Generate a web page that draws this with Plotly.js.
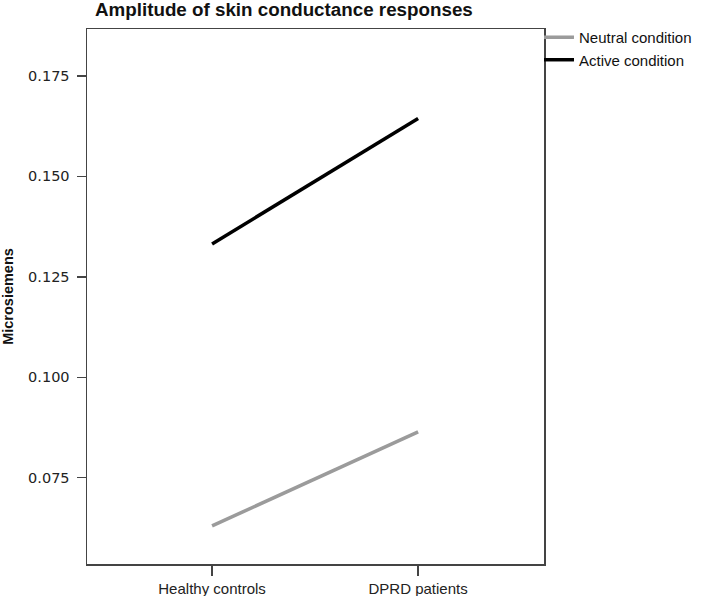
<!DOCTYPE html>
<html>
<head>
<meta charset="utf-8">
<script src="https://cdn.plot.ly/plotly-3.0.1.min.js"></script>
<style>
  html, body { margin: 0; padding: 0; background: #fff; }
  #chart { width: 709px; height: 596px; }
</style>
</head>
<body>
<div id="chart"></div>
<script>
var categories = ["Healthy controls", "DPRD patients"];
var neutralValues = [0.0630, 0.0864];
var activeValues = [0.1332, 0.1644];
var seriesNames = ["Neutral condition", "Active condition"];
var yTickValues = [0.075, 0.100, 0.125, 0.150, 0.175];
var yTickLabels = ["0.075", "0.100", "0.125", "0.150", "0.175"];

var traces = [
  {
    x: categories, y: neutralValues, name: seriesNames[0],
    type: "scatter", mode: "lines",
    line: { color: "#9b9b9b", width: 3.5 }
  },
  {
    x: categories, y: activeValues, name: seriesNames[1],
    type: "scatter", mode: "lines",
    line: { color: "#000000", width: 3.5 }
  }
];

var layout = {
  width: 709, height: 596,
  margin: { l: 87, r: 154, t: 29, b: 32, pad: 0 },
  paper_bgcolor: "#ffffff", plot_bgcolor: "#ffffff",
  font: { family: "Liberation Sans, Arial, sans-serif", color: "#222222" },
  title: {
    text: "<b>Amplitude of skin conductance responses</b>",
    font: { family: "Liberation Sans, Arial, sans-serif", size: 18.8, color: "#111111" },
    xref: "container", x: 95 / 709, xanchor: "left",
    yref: "container", y: 1 - 9 / 596, yanchor: "middle"
  },
  xaxis: {
    type: "category",
    range: [-0.607, 1.611],
    showgrid: false, zeroline: false,
    showline: true, mirror: true, linecolor: "#444444", linewidth: 1.5,
    ticks: "outside", ticklen: 10, tickwidth: 1.5, tickcolor: "#444444",
    tickfont: { family: "Liberation Sans, Arial, sans-serif", size: 15, color: "#222222" }
  },
  yaxis: {
    range: [0.05351, 0.1867],
    tickvals: yTickValues, ticktext: yTickLabels,
    showgrid: false, zeroline: false,
    showline: true, mirror: true, linecolor: "#444444", linewidth: 1.5,
    ticks: "outside", ticklen: 9, tickwidth: 1.5, tickcolor: "#444444",
    ticklabelstandoff: 4,
    tickfont: { family: "DejaVu Sans, sans-serif", size: 14.5, color: "#222222" },
    title: {
      text: "<b>Microsiemens</b>",
      font: { family: "Liberation Sans, Arial, sans-serif", size: 14.5, color: "#111111" },
      standoff: 14
    }
  },
  showlegend: true,
  legend: {
    x: 0.989, xanchor: "left",
    y: 1.015, yanchor: "top",
    bgcolor: "rgba(0,0,0,0)", borderwidth: 0,
    font: { family: "Liberation Sans, Arial, sans-serif", size: 15, color: "#111111" },
    tracegroupgap: 0
  }
};

Plotly.newPlot("chart", traces, layout, { displayModeBar: false, staticPlot: true });
</script>
</body>
</html>
